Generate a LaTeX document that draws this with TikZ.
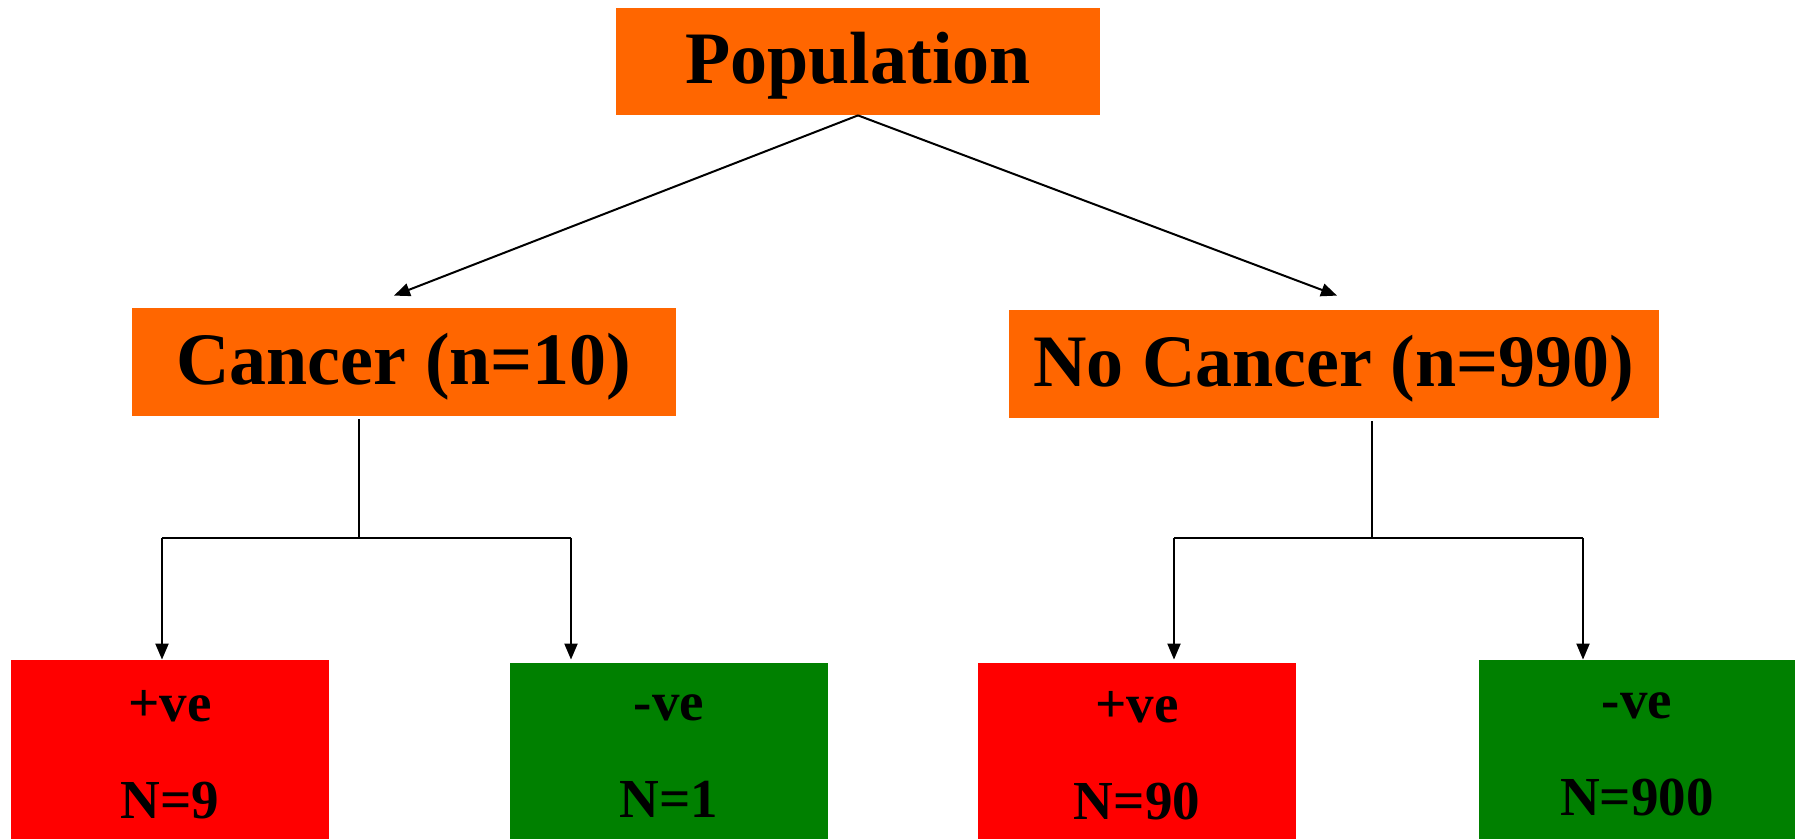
\documentclass[tikz,border=0pt]{standalone}
\usepackage{fontspec}
\setmainfont{Liberation Serif}
\usetikzlibrary{arrows.meta}
\definecolor{orng}{HTML}{FF6600}
\definecolor{rd}{HTML}{FF0000}
\definecolor{gr}{HTML}{008000}
\begin{document}
\begin{tikzpicture}[x=0.5pt,y=-0.5pt,
  topbox/.style={fill=orng,inner sep=0pt,text height=30pt,text depth=7.5pt,font=\fontsize{37}{40}\selectfont\bfseries},
  leafbox/.style={inner sep=0pt,minimum width=159pt},
  leaftext/.style={inner sep=0pt,align=center,font=\fontsize{27.5}{48.5}\selectfont\bfseries},
  conn/.style={line width=1pt,black},
  arr/.style={conn,-{Triangle[length=8pt,width=6.5pt]}}]
\useasboundingbox (0,0) rectangle (1800,839);
\node[topbox,minimum width=242pt,minimum height=53.5pt] (pop) at (858,61.5) {Population};
\node[topbox,minimum width=272pt,minimum height=54pt] (can) at (404,362) {Cancer (n=10)};
\node[topbox,minimum width=325pt,minimum height=54pt] (nocan) at (1334,364) {No Cancer (n=990)};
\node[leafbox,fill=rd,minimum height=89.5pt] (r1) at (170,749.5) {};
\node[leafbox,fill=gr,minimum height=88pt] (g1) at (669,751) {};
\node[leafbox,fill=rd,minimum height=88pt] (r2) at (1137,751) {};
\node[leafbox,fill=gr,minimum width=158pt,minimum height=89.5pt] (g2) at (1637,749.5) {};
\node[leaftext] (r1t) at ([yshift=-2.5pt]r1.center) {+ve\\N=9};
\node[leaftext] (g1t) at ([yshift=-2.5pt]g1.center) {-ve\\N=1};
\node[leaftext] (r2t) at ([yshift=-2.5pt]r2.center) {+ve\\N=90};
\node[leaftext] (g2t) at ([yshift=-2.5pt]g2.center) {-ve\\N=900};
\draw[arr] (pop.south) -- ([shift={(-10,-12)}]can.north);
\draw[arr] (pop.south) -- ([shift={(3,-14)}]nocan.north);
\coordinate (cj) at (359,538);
\coordinate (cl) at (162,538);
\coordinate (cr) at (571,538);
\draw[conn] ([yshift=-1.5pt]can.south -| cj) -- (cj);
\draw[conn] (cl) -- (cr);
\draw[arr] (cl) -- (cl |- r1.north);
\draw[arr] (cr) -- (cr |- r1.north);
\coordinate (nj) at (1372,538);
\coordinate (nl) at (1174,538);
\coordinate (nr) at (1583,538);
\draw[conn] ([yshift=-1.5pt]nocan.south -| nj) -- (nj);
\draw[conn] (nl) -- (nr);
\draw[arr] (nl) -- (nl |- g2.north);
\draw[arr] (nr) -- (nr |- g2.north);
\end{tikzpicture}
\end{document}
